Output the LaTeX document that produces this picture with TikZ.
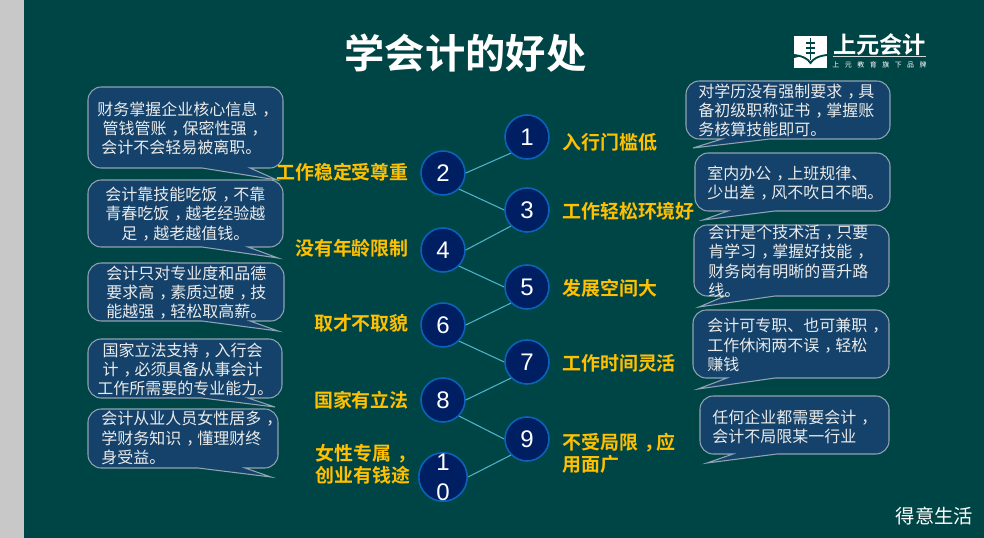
\documentclass[tikz,border=0pt]{standalone}
\usepackage{fontspec}
\setmainfont{Liberation Sans}
\newfontfamily\cjk{Noto Sans CJK SC}
\newfontfamily\cjkb{Noto Sans CJK SC Bold}
\definecolor{bgc}{HTML}{004545}
\definecolor{bandc}{HTML}{C8C8C8}
\definecolor{bubblec}{HTML}{14426A}
\definecolor{bubbleline}{HTML}{8FA3B0}
\definecolor{circlec}{HTML}{001F63}
\definecolor{circleline}{HTML}{0A63B8}
\definecolor{linkc}{HTML}{4FB3C8}
\definecolor{labelc}{HTML}{FFC000}
% full-width comma set in the middle of its cell, as in the reference
\newcommand\dou{\hspace{0.32em}，\hspace{-0.32em}}
\newcommand\bubble[8]{%
 \draw[bubblestyle,rounded corners=10pt] ({(#1+#3)/2},#2) -- (#3,#2) -- (#3,#4)
   [sharp corners] -- (#6,#4) -- (#7,#8) -- (#5,#4) [rounded corners=10pt] -- (#1,#4) -- (#1,#2) -- cycle;}
\tikzset{
 bubblestyle/.style={draw=bubbleline,fill=bubblec,line width=0.8pt},
 bubbletext/.style={anchor=west,text=white!92!black,font=\cjk\fontsize{12}{14.5}\selectfont,align=left,inner sep=0pt},
 num/.style={circle,draw=circleline,fill=circlec,line width=1.2pt,minimum size=33pt,inner sep=0pt,text=white,font=\fontsize{18}{20}\selectfont},
 lab/.style={text=labelc,font=\cjkb\fontsize{14.2}{16.4}\selectfont,inner sep=0pt},
 link/.style={draw=linkc,line width=0.8pt}
}
\begin{document}
\begin{tikzpicture}[x=0.75pt,y=-0.75pt]
\useasboundingbox (0,0) rectangle (984,538);
\fill[bgc] (0,0) rectangle (984,538);
\fill[bandc] (0,0) rectangle (24,538);
\node[text=white,font=\cjkb\fontsize{30.2}{32}\selectfont,inner sep=0pt] (title) at (465.5,53) {学会计的好处};
% logo
\fill[white] (794,36) rectangle (827,68);
\draw[bgc,line width=1.4pt] (794,55) .. controls (803,56) and (808,59) .. (810.5,63) .. controls (813,59) and (818,56) .. (827,55);
\draw[bgc,line width=1pt] (810.5,38) -- (810.5,60);
\foreach \yy in {43,48,53} \draw[bgc,line width=0.9pt] (806,\yy) -- (815,\yy);
\fill[bgc] (794,55.6) -- (800,56.5) -- (794,58) -- cycle;
\node[text=white,font=\cjkb\fontsize{17.4}{18}\selectfont,inner sep=0pt] (logo) at (879.5,45) {上元会计};
\draw[white!80!bgc,line width=0.4pt] (833,56.5) -- (926,56.5);
\node[text=white,font=\cjk\fontsize{5.2}{6}\selectfont,inner sep=0pt] (logosub) at (879.5,64.5) {上\hspace{0.8em}元\hspace{0.8em}教\hspace{0.8em}育\hspace{0.8em}旗\hspace{0.8em}下\hspace{0.8em}品\hspace{0.8em}牌};
% circles
\node[num] (n1) at (527,137) {1};
\node[num] (n2) at (443,173) {2};
\node[num] (n3) at (527,210) {3};
\node[num] (n4) at (443,250) {4};
\node[num] (n5) at (527,287) {5};
\node[num] (n6) at (443,325) {6};
\node[num] (n7) at (527,362) {7};
\node[num] (n8) at (443,400) {8};
\node[num] (n9) at (527,439) {9};
\node[num,align=center,font=\fontsize{18}{22.5}\selectfont] (n10) at (443,477) {1\\0};
\foreach \a/\b in {n2/n1,n4/n3,n6/n5,n8/n7,n10/n9}
  \draw[link] (\a.east) -- (\b.south west);
\foreach \a/\b in {n2/n3,n4/n5,n6/n7,n8/n9}
  \draw[link] (\a.south east) -- (\b.west);
% left bubbles
\bubble{88}{87}{283}{168}{202}{250}{277}{180}
\node[bubbletext] (b1) at (97,128.5) {财务掌握企业核心信息\dou\\\hspace*{4pt}管钱管账\dou 保密性强\dou\\\hspace*{3pt}会计不会轻易被离职。};
\bubble{88}{180}{283}{247}{202}{248}{278}{258}
\node[bubbletext] (b2) at (105,214) {会计靠技能吃饭\dou 不靠\\青春吃饭\dou 越老经验越\\\hspace*{12pt}足\dou 越老越值钱。};
\bubble{88}{263}{284}{321}{202}{250}{278}{331}
\node[bubbletext] (b3) at (106,292.5) {会计只对专业度和品德\\要求高\dou 素质过硬\dou 技\\能越强\dou 轻松取高薪。};
\bubble{88}{339}{282}{398}{202}{248}{275}{407}
\node[bubbletext] (b4) at (97,369.5) {\hspace*{4pt}国家立法支持\dou 入行会\\\hspace*{4pt}计\dou 必须具备从事会计\\工作所需要的专业能力。};
\bubble{88}{409}{278}{468}{198}{245}{271}{477}
\node[bubbletext] (b5) at (101,438) {会计从业人员女性居多\dou\\学财务知识\dou 懂理财终\\身受益。};
% right bubbles
\bubble{686}{81}{890}{139}{722}{770}{693}{148}
\node[bubbletext] (r1) at (698,110.5) {对学历没有强制要求\dou 具\\备初级职称证书\dou 掌握账\\务核算技能即可。};
\bubble{695}{153}{890}{211}{728}{775}{703}{220}
\node[bubbletext] (r2) at (707,183) {室内办公\dou 上班规律、\\少出差\dou 风不吹日不晒。};
\bubble{694}{225}{889}{296}{725}{775}{699}{307}
\node[bubbletext] (r3) at (708,261.5) {会计是个技术活\dou 只要\\肯学习\dou 掌握好技能\dou\\财务岗有明晰的晋升路\\线。};
\bubble{693}{310}{889}{378}{727}{775}{698}{389}
\node[bubbletext] (r4) at (707,345) {会计可专职、也可兼职\dou\\工作休闲两不误\dou 轻松\\赚钱};
\bubble{700}{396}{889}{454}{733}{777}{707}{463}
\node[bubbletext] (r5) at (712,427) {任何企业都需要会计\dou\\会计不局限某一行业};
% labels
\node[lab,anchor=east] (l2) at (409,172) {工作稳定受尊重};
\node[lab,anchor=east] (l4) at (409,248) {没有年龄限制};
\node[lab,anchor=east] (l6) at (409,323) {取才不取貌};
\node[lab,anchor=east] (l8) at (409,400) {国家有立法};
\node[lab,anchor=west,align=left] (l10) at (315.5,464) {女性专属\dou\\创业有钱途};
\node[lab,anchor=west] (l1) at (562,142) {入行门槛低};
\node[lab,anchor=west] (l3) at (562,211) {工作轻松环境好};
\node[lab,anchor=west] (l5) at (562,288) {发展空间大};
\node[lab,anchor=west] (l7) at (562,363) {工作时间灵活};
\node[lab,anchor=west,align=left] (l9) at (562,453.5) {不受局限\dou 应\\用面广};
\node[text=white,font=\cjk\fontsize{14.5}{16}\selectfont,inner sep=0pt] (wm) at (934.5,516) {得意生活};
\end{tikzpicture}
\end{document}
